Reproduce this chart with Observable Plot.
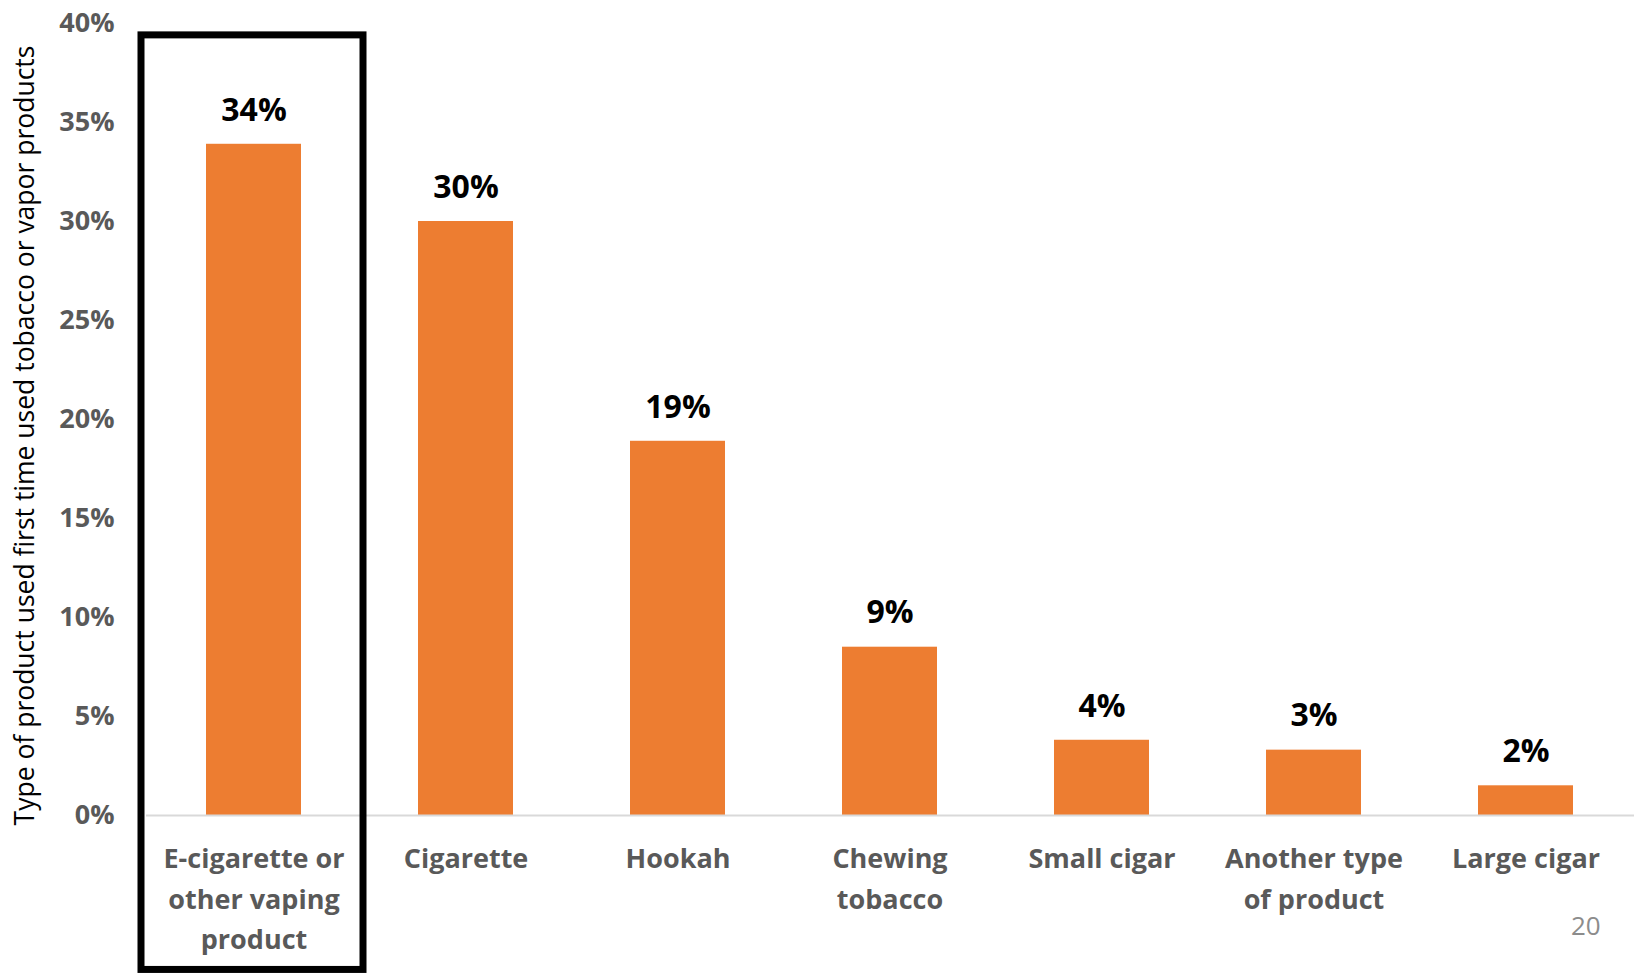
<!DOCTYPE html>
<html>
<head>
<meta charset="utf-8">
<script src="https://cdn.jsdelivr.net/npm/d3@7"></script>
<script src="https://cdn.jsdelivr.net/npm/@observablehq/plot@0.6"></script>
<style>
  html, body { margin: 0; padding: 0; background: #fff; overflow: hidden; }
  #wrap { position: relative; width: 1639px; height: 973px; }
  #page { position: absolute; left: 1571px; top: 907px; font: 26px "Open Sans", sans-serif; color: #8c8c8c; }
</style>
</head>
<body>
<div id="wrap">
  <div id="chart"></div>
  <div id="page">20</div>
</div>
<script>
const categories = [
  "E-cigarette or other vaping product",
  "Cigarette",
  "Hookah",
  "Chewing tobacco",
  "Small cigar",
  "Another type of product",
  "Large cigar"
];
const tickLabels = [
  "E-cigarette or\nother vaping\nproduct",
  "Cigarette",
  "Hookah",
  "Chewing\ntobacco",
  "Small cigar",
  "Another type\nof product",
  "Large cigar"
];
const values = [33.9, 30.0, 18.9, 8.5, 3.8, 3.3, 1.5];
const valueLabels = ["34%", "30%", "19%", "9%", "4%", "3%", "2%"];
const yTicks = [0, 5, 10, 15, 20, 25, 30, 35, 40];
const highlighted = ["E-cigarette or other vaping product"];
const yTitle = "Type of product used first time used tobacco or vapor products";

const data = categories.map((c, i) => ({category: c, value: values[i], label: valueLabels[i]}));
const tickMap = new Map(categories.map((c, i) => [c, tickLabels[i]]));

const font = "'Open Sans', sans-serif";

const chart = Plot.plot({
  width: 1639,
  height: 973,
  marginTop: 23,
  marginBottom: 158,
  marginLeft: 146,
  marginRight: 5,
  style: {fontFamily: font, background: "#fff", overflow: "visible"},
  x: {domain: categories, paddingInner: 0.55, paddingOuter: 0.275},
  y: {domain: [0, 40]},
  marks: [
    Plot.barY(data, {x: "category", y: "value", fill: "#ED7D31"}),
    Plot.ruleY([0], {stroke: "#d9d9d9", strokeWidth: 2}),
    Plot.barY(highlighted, {x: d => d, y1: -7.8, y2: 39.4, fill: "none", stroke: "#000", strokeWidth: 7, insetLeft: -65, insetRight: -62}),
    Plot.text(data, {x: "category", y: "value", text: "label", dy: -34, fontSize: 32, fontWeight: "bold", fill: "#000"}),
    Plot.axisY({ticks: yTicks, tickSize: 0, tickPadding: 32, tickFormat: d => d + "%", fontSize: 27, fontWeight: "bold", fill: "#595959", label: null}),
    Plot.axisX({tickSize: 0, tickPadding: 24, tickFormat: d => tickMap.get(d), fontSize: 27, fontWeight: "bold", fill: "#595959", lineHeight: 1.5, label: null}),
    Plot.text([yTitle], {frameAnchor: "left", text: d => d, textAnchor: "middle", rotate: -90, dx: -121, dy: 16, fontSize: 26.5, fill: "#000"})
  ]
});
document.getElementById("chart").appendChild(chart);
</script>
</body>
</html>
